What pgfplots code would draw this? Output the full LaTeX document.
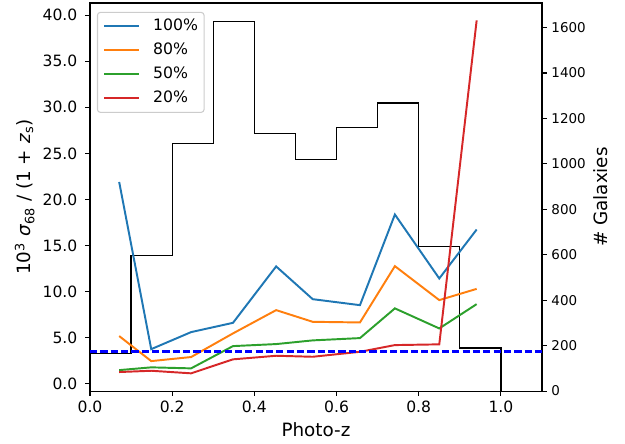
\documentclass[border=0pt]{standalone}
\usepackage{pgfplots}
\pgfplotsset{compat=1.18}
\usepackage{fontspec}
\setmainfont{DejaVu Sans}
\definecolor{c0}{HTML}{1F77B4}
\definecolor{c1}{HTML}{FF7F0E}
\definecolor{c2}{HTML}{2CA02C}
\definecolor{c3}{HTML}{D62728}

\pgfplotsset{
  common/.style={
    scale only axis, width=325.4pt, height=279.4pt,
    xmin=0, xmax=1.1,
    tick align=outside, major tick length=3.3pt,
    every tick/.style={black, line width=0.75pt},
    axis line style={line width=0.75pt},
    tick label style={font=\fontsize{11.2}{13}\selectfont},
    label style={font=\fontsize{13.2}{15}\selectfont},
    /pgf/number format/assume math mode=true,
    /pgf/number format/1000 sep={},
  }
}

\begin{document}
\begin{tikzpicture}
\begin{axis}[common,
  ymin=0, ymax=1708,
  axis y line*=right, axis x line=none,
  ytick={0,200,...,1600},
  yticklabel style={font=\fontsize{9.7}{11}\selectfont},
  ylabel={\# Galaxies},
  ylabel style={at={(axis description cs:1.129,0.5)}, anchor=center},
]
\addplot[const plot, black, line width=0.9pt] coordinates {
(0,0) (0,166) (0.1,598) (0.2,1090) (0.3,1625) (0.4,1134) (0.5,1018) (0.6,1161) (0.7,1268) (0.8,635) (0.9,190) (1.0,190) (1.0,0)};
\end{axis}

\begin{axis}[common,
  ymin=-0.84, ymax=41.34,
  xtick={0,0.2,0.4,0.6,0.8,1.0},
  ytick={0,5,...,40},
  tick pos=left,
  xticklabel style={/pgf/number format/fixed, /pgf/number format/fixed zerofill, /pgf/number format/precision=1},
  yticklabel style={xshift=-2.3pt, /pgf/number format/fixed, /pgf/number format/fixed zerofill, /pgf/number format/precision=1},
  xlabel={Photo-z},
  xlabel style={at={(axis description cs:0.5,-0.1)}, anchor=center},
  ylabel={10\textsuperscript{3} \textit{σ}\textsubscript{68} / (1 + \textit{z}\textsubscript{s})},
  ylabel style={at={(axis description cs:-0.1444,0.5)}, anchor=center},
  legend style={at={(0.0154,0.977)}, anchor=north west, draw=black!20, line width=0.75pt, rounded corners=2pt, fill=white,
    font=\fontsize{11.3}{13}\selectfont, inner xsep=4.3pt, inner ysep=4.5pt, row sep=6.3pt, column sep=9.4pt,
    nodes={inner sep=0pt, text height=8.5pt, text depth=2.5pt}},
  legend cell align=left,
  legend image code/.code={\draw[#1] (0pt,0pt) -- (25pt,0pt);},
]
\addplot[c0, line width=1.4pt] coordinates {(0.071,21.89) (0.149,3.72) (0.246,5.57) (0.348,6.58) (0.453,12.71) (0.542,9.15) (0.657,8.50) (0.742,18.35) (0.850,11.40) (0.941,16.72)};
\addlegendentry{100\%}
\addplot[c1, line width=1.4pt] coordinates {(0.071,5.14) (0.149,2.42) (0.246,2.86) (0.348,5.43) (0.453,7.96) (0.542,6.69) (0.657,6.62) (0.742,12.74) (0.850,9.05) (0.941,10.27)};
\addlegendentry{80\%}
\addplot[c2, line width=1.4pt] coordinates {(0.071,1.44) (0.149,1.74) (0.246,1.63) (0.348,4.05) (0.453,4.27) (0.542,4.67) (0.657,4.92) (0.742,8.15) (0.850,5.97) (0.941,8.61)};
\addlegendentry{50\%}
\addplot[c3, line width=1.4pt] coordinates {(0.071,1.23) (0.149,1.37) (0.246,1.09) (0.348,2.61) (0.453,3.00) (0.542,2.89) (0.657,3.43) (0.742,4.16) (0.850,4.24) (0.941,39.45)};
\addlegendentry{20\%}
\addplot[blue, line width=1.6pt, dash pattern=on 5.2pt off 2.25pt, forget plot] coordinates {(0,3.47) (1.1,3.47)};
\coordinate (sw) at (rel axis cs:0,0);
\coordinate (ne) at (rel axis cs:1,1);
\end{axis}
\pgfresetboundingbox
\path[use as bounding box] ([shift={(-64.8pt,-37.44pt)}]sw) rectangle ([shift={(59.76pt,2.16pt)}]ne);
\end{tikzpicture}
\end{document}
